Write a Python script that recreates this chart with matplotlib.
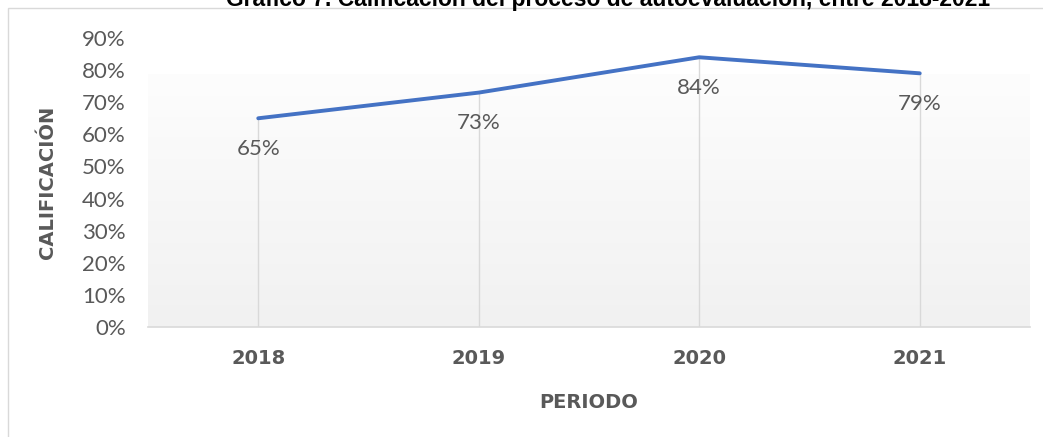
import matplotlib
matplotlib.use("Agg")
import matplotlib.pyplot as plt
import numpy as np
from matplotlib.patches import Rectangle

# data
years = ["2018", "2019", "2020", "2021"]
scores = [0.65, 0.73, 0.84, 0.79]
yticks = [0.0, 0.1, 0.2, 0.3, 0.4, 0.5, 0.6, 0.7, 0.8, 0.9]

title = "Gráfico 7. Calificación del proceso de autoevaluación, entre 2018-2021"
gray = "#595959"

plt.rcParams['font.family'] = ['Lato', 'DejaVu Sans']

fig = plt.figure(figsize=(10.43, 4.37), dpi=100)
W, H = 1043, 437

# chart frame (left/top border of the embedded chart)
fig.patches.append(Rectangle((8 / W, -0.1), 1.2, (H - 8) / H + 0.1,
                             transform=fig.transFigure, fill=False,
                             edgecolor="#d9d9d9", linewidth=1.0))
fig.text(608 / W, 1 - 6 / H, title, ha="center", va="baseline",
         fontsize=16.5, fontweight="bold", color="black",
         family=["Liberation Sans", "DejaVu Sans"])

ax = fig.add_axes([148 / W, 1 - 327 / H, (1030 - 148) / W, (327 - 38) / H])
x = np.arange(len(years))
ax.set_xlim(-0.5, len(years) - 0.5)
ax.set_ylim(0, 0.9)

# soft gradient in plot area
grad = np.linspace(0, 1, 256).reshape(-1, 1)
cmap = matplotlib.colors.LinearSegmentedColormap.from_list("g", ["#f1f1f1", "#fdfdfd"])
ax.imshow(grad, aspect="auto", cmap=cmap, origin="lower",
          extent=(-0.5, len(years) - 0.5, 0, 0.785), zorder=0)

ax.vlines(x, 0, scores, color="#d9d9d9", linewidth=1.0, zorder=1)
ax.plot(x, scores, color="#4472C4", linewidth=2.8, solid_capstyle="round", zorder=3)
for xi, v in zip(x, scores):
    ax.annotate(f"{v:.0%}", (xi, v), xytext=(0, -15), textcoords="offset points",
                ha="center", va="top", fontsize=16, color=gray)

for s in ["top", "right", "left"]:
    ax.spines[s].set_visible(False)
ax.spines["bottom"].set_color("#d9d9d9")
ax.spines["bottom"].set_linewidth(1.2)

bold = ["DejaVu Sans"]
ax.set_xticks(x)
ax.set_xticklabels(years, fontsize=14, fontweight="bold", color=gray, family=bold)
ax.set_yticks(yticks)
ax.set_yticklabels([f"{t:.0%}" for t in yticks], fontsize=16, color=gray)
ax.tick_params(length=0)
ax.tick_params(axis="x", pad=16)
ax.tick_params(axis="y", pad=16)

ax.set_xlabel("PERIODO", fontsize=14, fontweight="bold", color=gray, labelpad=18, family=bold)
ax.set_ylabel("CALIFICACIÓN", fontsize=14, fontweight="bold", color=gray, labelpad=18, family=bold)

fig.savefig("out.png", dpi=100)
